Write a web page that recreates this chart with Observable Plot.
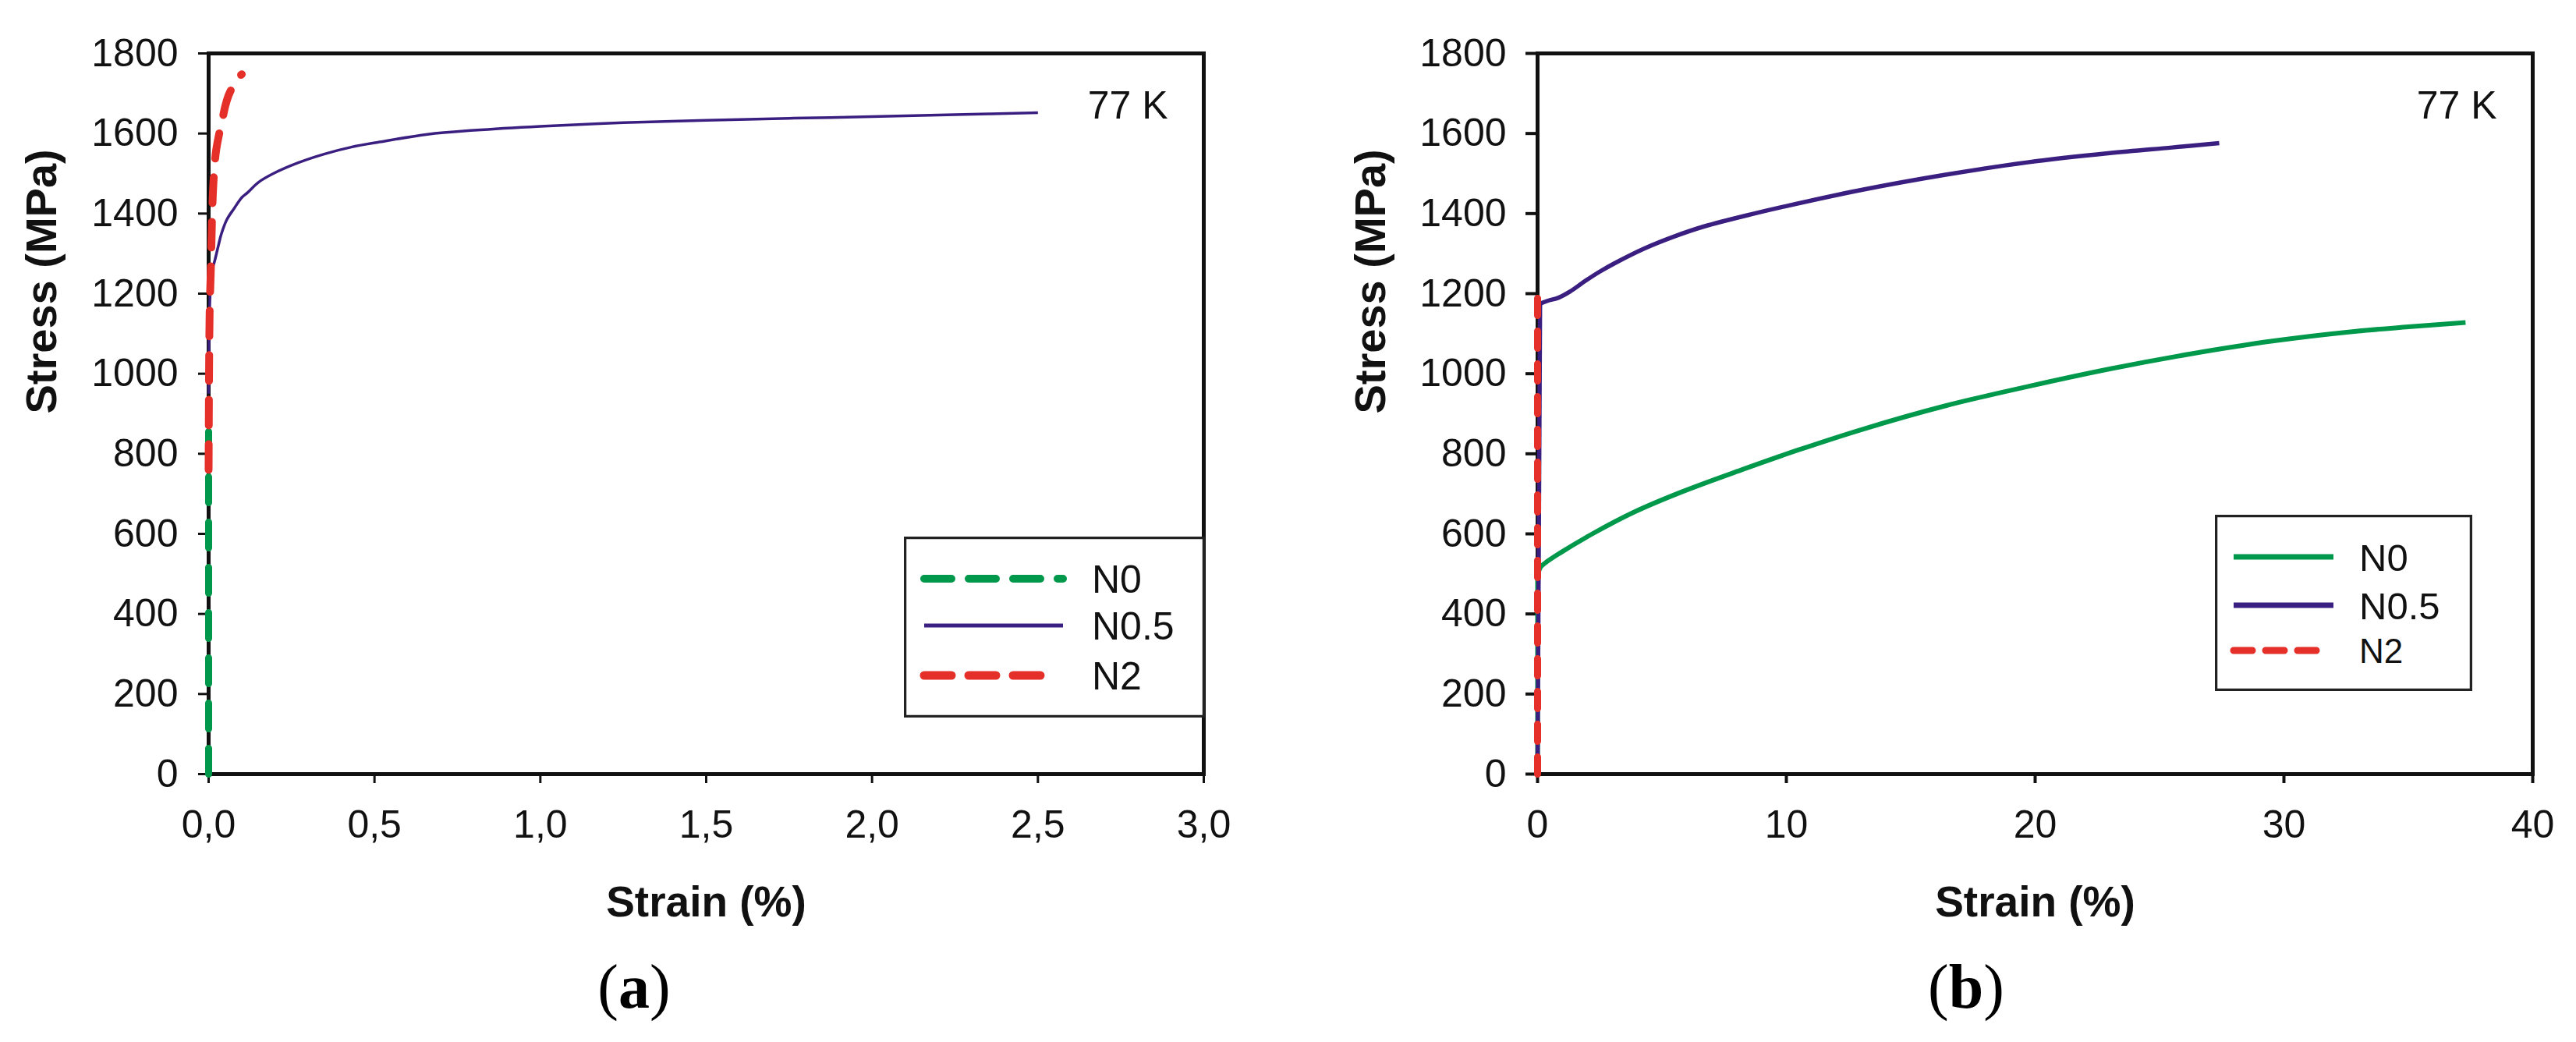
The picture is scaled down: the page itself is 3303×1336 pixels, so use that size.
<!DOCTYPE html>
<html>
<head>
<meta charset="utf-8">
<script src="https://cdn.jsdelivr.net/npm/d3@7"></script>
<script src="https://cdn.jsdelivr.net/npm/@observablehq/plot@0.6"></script>
<style>
  html, body { margin: 0; padding: 0; background: #ffffff; }
  #page { position: relative; width: 3303px; height: 1336px; overflow: hidden; background: #ffffff; }
  #page > svg { position: absolute; top: 0; }
  .legend { position: absolute; }
  .caption { position: absolute; font-family: "Liberation Serif", "Times New Roman", serif; font-size: 80px; line-height: 1; transform: translate(-50%, -50%); color: #000; }
</style>
</head>
<body>
<div id="page"></div>
<script>
// ---------- tick values and labels ----------
const yTicks = [0, 200, 400, 600, 800, 1000, 1200, 1400, 1600, 1800];
const yTickLabels = ["0", "200", "400", "600", "800", "1000", "1200", "1400", "1600", "1800"];
const xTicksA = [0, 0.5, 1, 1.5, 2, 2.5, 3];
const xTickLabelsA = ["0,0", "0,5", "1,0", "1,5", "2,0", "2,5", "3,0"];
const xTicksB = [0, 10, 20, 30, 40];
const xTickLabelsB = ["0", "10", "20", "30", "40"];
const seriesNames = ["N0", "N0.5", "N2"];

// ---------- panel (a): strain (%) / stress (MPa) ----------
const aN0Strain = [0, 0];
const aN0Stress = [0, 920];
const aN05Strain = [0, 0.005, 0.012, 0.019, 0.03, 0.038, 0.055, 0.077, 0.1, 0.117, 0.15, 0.195, 0.27, 0.35, 0.43, 0.51, 0.66, 0.8, 1.0, 1.25, 1.5, 1.75, 2.0, 2.25, 2.5];
const aN05Stress = [950, 1205, 1262, 1284, 1322, 1348, 1385, 1413, 1440, 1452, 1478, 1500, 1527, 1549, 1566, 1578, 1598, 1608, 1618, 1627, 1633, 1638, 1642, 1647, 1652];
const aN2Strain = [0, 0.003, 0.007, 0.01, 0.014, 0.019, 0.023, 0.032, 0.042, 0.05, 0.06, 0.07, 0.08, 0.09, 0.1];
const aN2Stress = [760, 1150, 1270, 1380, 1470, 1530, 1560, 1600, 1637, 1668, 1695, 1713, 1728, 1740, 1748];

// ---------- panel (b) ----------
const bN0Strain = [0, 0, 0.1, 0.3, 0.9, 2.2, 3.9, 5.8, 8.2, 10.5, 13.1, 16.4, 19.7, 23, 26.3, 29.6, 32.9, 35, 37.3];
const bN0Stress = [0, 490, 515, 527, 552, 600, 655, 705, 760, 810, 862, 920, 968, 1012, 1050, 1082, 1106, 1117, 1128];
const bN05Strain = [0, 0.1, 0.4, 0.85, 1.3, 1.9, 2.5, 3.1, 4.3, 5.5, 6.7, 8.7, 9.8, 13.1, 16.4, 19.7, 23, 25.5, 27.4];
const bN05Stress = [0, 1175, 1182, 1190, 1205, 1231, 1255, 1276, 1313, 1343, 1368, 1400, 1416, 1460, 1497, 1528, 1551, 1565, 1576];
const bN2Strain = [0, 0];
const bN2Stress = [0, 1190];

const GREEN = "#00984a", PURPLE = "#3b1f80", RED = "#e5302a";
const FONT = "'Liberation Sans', Arial, Helvetica, sans-serif";

const toRows = (xs, ys) => xs.map((x, i) => ({strain: x, stress: ys[i]}));

function lineMarks(l) {
  const rows = toRows(l.xs, l.ys);
  const common = {x: "strain", y: "stress", stroke: l.color, strokeWidth: l.width,
    strokeDasharray: l.dash, strokeLinecap: l.dash ? "round" : "butt", strokeLinejoin: "round"};
  if (l.split) {
    // straight elastic segment, then smooth plastic part
    return [
      Plot.line(rows.slice(0, l.split + 1), {...common, curve: "linear"}),
      Plot.line(rows.slice(l.split), {...common, curve: "catmull-rom"})
    ];
  }
  return [Plot.line(rows, {...common, curve: "catmull-rom"})];
}

function panel({xDomain, xTicks, xLabels, lines, marginLeft, marginRight, width, tickW}) {
  return Plot.plot({
    width, height: 1150,
    marginLeft, marginRight, marginTop: 68, marginBottom: 158,
    x: {domain: xDomain},
    y: {domain: [0, 1800]},
    style: {fontFamily: FONT, fontSize: "50px", color: "#111", background: "transparent", overflow: "visible"},
    marks: [
      Plot.frame({stroke: "#111", strokeWidth: 5}),
      Plot.axisY({ticks: yTicks, tickSize: tickW.ySize, tickPadding: tickW.yPad, strokeWidth: tickW.y, label: null,
                  tickFormat: d => yTickLabels[yTicks.indexOf(d)], fontSize: 50}),
      Plot.axisX({ticks: xTicks, tickSize: 12, tickPadding: 34, strokeWidth: tickW.x, label: null,
                  tickFormat: d => xLabels[xTicks.indexOf(d)], fontSize: 50}),
      ...lines.flatMap(lineMarks),
      Plot.text(["Strain (%)"], {frameAnchor: "bottom", dy: 165, text: d => d, fontWeight: "bold", fontSize: 55, lineAnchor: "middle", fill: "#111"}),
      Plot.text(["Stress (MPa)"], {frameAnchor: "left", dx: -213, rotate: -90, text: d => d, fontWeight: "bold", fontSize: 56, lineAnchor: "middle", fill: "#111"}),
      Plot.text(["77 K"], {frameAnchor: "top-right", dx: -46, dy: 67, text: d => d, fontSize: 50, textAnchor: "end", lineAnchor: "middle", fill: "#111"})
    ]
  });
}

const page = document.getElementById("page");

const svgA = panel({
  xDomain: [0, 3], xTicks: xTicksA, xLabels: xTickLabelsA,
  width: 1651, marginLeft: 267, marginRight: 108,
  tickW: {y: 3, x: 3, ySize: 13, yPad: 26},
  lines: [
    {xs: aN0Strain, ys: aN0Stress, color: GREEN, width: 9, dash: "33,25"},
    {xs: aN05Strain, ys: aN05Stress, color: PURPLE, width: 3.5, dash: null},
    {xs: aN2Strain, ys: aN2Stress, color: RED, width: 10, dash: "33,24"}
  ]
});
svgA.style.left = "0px";
page.appendChild(svgA);

const svgB = panel({
  xDomain: [0, 40], xTicks: xTicksB, xLabels: xTickLabelsB,
  width: 1652, marginLeft: 320, marginRight: 56,
  tickW: {y: 4, x: 4, ySize: 15, yPad: 25},
  lines: [
    {xs: bN0Strain, ys: bN0Stress, color: GREEN, width: 6, dash: null, split: 1},
    {xs: bN05Strain, ys: bN05Stress, color: PURPLE, width: 5.5, dash: null, split: 1},
    {xs: bN2Strain, ys: bN2Stress, color: RED, width: 9, dash: "22,20"}
  ]
});
svgB.style.left = "1651px";
page.appendChild(svgB);

// ---------- legends ----------
function legend({left, top, w, h, lineX0, lineX1, textX, rows}) {
  const ns = "http://www.w3.org/2000/svg";
  const svg = document.createElementNS(ns, "svg");
  svg.setAttribute("width", w); svg.setAttribute("height", h);
  svg.setAttribute("class", "legend");
  svg.style.left = left + "px"; svg.style.top = top + "px";
  const r = document.createElementNS(ns, "rect");
  r.setAttribute("x", 1.5); r.setAttribute("y", 1.5);
  r.setAttribute("width", w - 3); r.setAttribute("height", h - 3);
  r.setAttribute("fill", "#fff"); r.setAttribute("stroke", "#222"); r.setAttribute("stroke-width", 3.5);
  svg.appendChild(r);
  rows.forEach(row => {
    const ln = document.createElementNS(ns, "line");
    ln.setAttribute("x1", lineX0); ln.setAttribute("x2", row.x1 ?? lineX1);
    ln.setAttribute("y1", row.y); ln.setAttribute("y2", row.y);
    ln.setAttribute("stroke", row.color); ln.setAttribute("stroke-width", row.width);
    if (row.dash) { ln.setAttribute("stroke-dasharray", row.dash); ln.setAttribute("stroke-linecap", "round"); }
    svg.appendChild(ln);
    const t = document.createElementNS(ns, "text");
    t.setAttribute("x", textX); t.setAttribute("y", row.y);
    t.setAttribute("dy", "0.36em");
    t.setAttribute("font-family", FONT); t.setAttribute("font-size", row.size);
    t.setAttribute("fill", "#111");
    t.textContent = row.name;
    svg.appendChild(t);
  });
  page.appendChild(svg);
}

legend({
  left: 1159, top: 688, w: 386, h: 232, lineX0: 26, lineX1: 204, textX: 241,
  rows: [
    {name: seriesNames[0], y: 54, color: GREEN, width: 10, dash: "35,22", size: 50},
    {name: seriesNames[1], y: 114, color: PURPLE, width: 5, dash: null, size: 50},
    {name: seriesNames[2], y: 178, color: RED, width: 11, dash: "35,22", x1: 183, size: 50}
  ]
});
legend({
  left: 2840, top: 660, w: 330, h: 226, lineX0: 24, lineX1: 152, textX: 185,
  rows: [
    {name: seriesNames[0], y: 54, color: GREEN, width: 7, dash: null, size: 49},
    {name: seriesNames[1], y: 116, color: PURPLE, width: 7, dash: null, size: 49},
    {name: seriesNames[2], y: 174, color: RED, width: 9, dash: "24,17", x1: 136, size: 44}
  ]
});

// ---------- captions ----------
function caption(letter, cx) {
  const d = document.createElement("div");
  d.className = "caption";
  d.style.left = cx + "px"; d.style.top = "1265px";
  d.innerHTML = "(<b>" + letter + "</b>)";
  page.appendChild(d);
}
caption("a", 813);
caption("b", 2521);
</script>
</body>
</html>
